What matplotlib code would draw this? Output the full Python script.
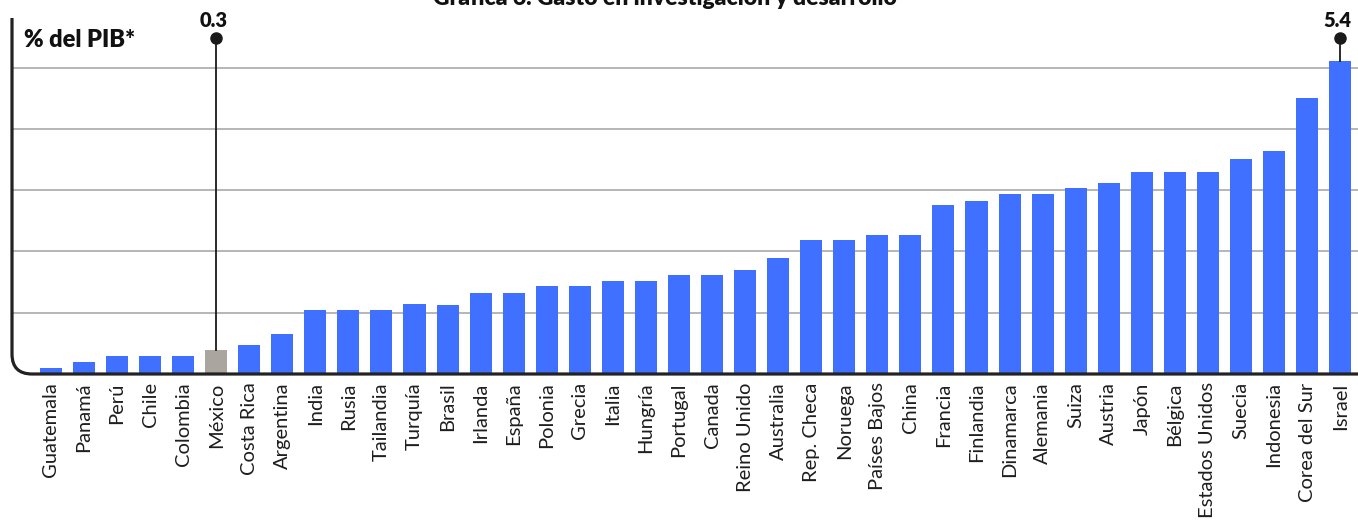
import numpy as np
import matplotlib
matplotlib.use("Agg")
import matplotlib.pyplot as plt
from matplotlib.path import Path
from matplotlib.patches import PathPatch
from matplotlib.transforms import IdentityTransform

# datos (% del PIB)
paises = ["Guatemala", "Panamá", "Perú", "Chile", "Colombia", "México", "Costa Rica",
          "Argentina", "India", "Rusia", "Tailandia", "Turquía", "Brasil", "Irlanda",
          "España", "Polonia", "Grecia", "Italia", "Hungría", "Portugal", "Canada",
          "Reino Unido", "Australia", "Rep. Checa", "Noruega", "Países Bajos", "China",
          "Francia", "Finlandia", "Dinamarca", "Alemania", "Suiza", "Austria", "Japón",
          "Bélgica", "Estados Unidos", "Suecia", "Indonesia", "Corea del Sur", "Israel"]
gasto = [0.10, 0.20, 0.29, 0.29, 0.29, 0.39, 0.47, 0.65, 1.04, 1.04, 1.04, 1.14, 1.12,
         1.32, 1.32, 1.43, 1.43, 1.51, 1.51, 1.61, 1.61, 1.69, 1.89, 2.18, 2.18, 2.26,
         2.26, 2.75, 2.83, 2.93, 2.93, 3.03, 3.11, 3.29, 3.29, 3.29, 3.50, 3.63, 4.51, 5.10]
destacados = {"México": "0.3", "Israel": "5.4"}
grid_vals = [1, 2, 3, 4, 5]

AZUL = "#4070ff"
GRIS = "#aaa59f"
W, H = 1358, 521

plt.rcParams["font.family"] = ["Lato", "DejaVu Sans"]

fig = plt.figure(figsize=(W / 100, H / 100), dpi=100)
ax = fig.add_axes([12 / W, (H - 374) / H, (W - 12) / W, 356 / H])

x = np.arange(len(paises))
colores = [GRIS if p == "México" else AZUL for p in paises]
ax.bar(x, gasto, width=0.667, color=colores, zorder=2)

for g in grid_vals:
    ax.axhline(g, color="#b3afab", lw=1.3, zorder=1)

ymax = 356 / 61.3
ax.set_ylim(0, ymax)
ax.set_xlim(-1.175, len(paises) - 1 + 17 / 31.5)

# marcadores de valor
y_dot = (374 - 38) / 61.3
for p, txt in destacados.items():
    i = paises.index(p)
    ax.plot([i, i], [gasto[i], y_dot], color="#1a1a1a", lw=1.3, zorder=3, clip_on=False)
    ax.plot(i, y_dot, "o", color="#1a1a1a", ms=8, zorder=4, clip_on=False)
    ax.text(i - 0.08, y_dot + 0.13, txt, ha="center", va="bottom", fontsize=14.5,
            fontweight="heavy", color="#111111", clip_on=False)

for s in ax.spines.values():
    s.set_visible(False)
ax.set_yticks([])
ax.set_xticks(x)
ax.set_xticklabels(paises, rotation=90, fontsize=14.5, color="#1e1e1e")
ax.tick_params(axis="x", length=0, pad=6)

# eje con esquina redondeada
verts = [(12, H - 18), (12, H - 354), (12, H - 374), (32, H - 374), (W, H - 374)]
codes = [Path.MOVETO, Path.LINETO, Path.CURVE3, Path.CURVE3, Path.LINETO]
fig.add_artist(PathPatch(Path(verts, codes), transform=IdentityTransform(),
                         fill=False, lw=2.3, edgecolor="#222222", zorder=5))

fig.text(24 / W, (H - 40) / H, "% del PIB*", fontsize=17, fontweight="heavy",
         ha="left", va="center", color="#111111")
fig.text(665 / W, (H - 5) / H, "Gráfica 6. Gasto en investigación y desarrollo",
         fontsize=16.5, fontweight="heavy", ha="center", va="baseline", color="#111111")

fig.savefig("out.png", dpi=100)
